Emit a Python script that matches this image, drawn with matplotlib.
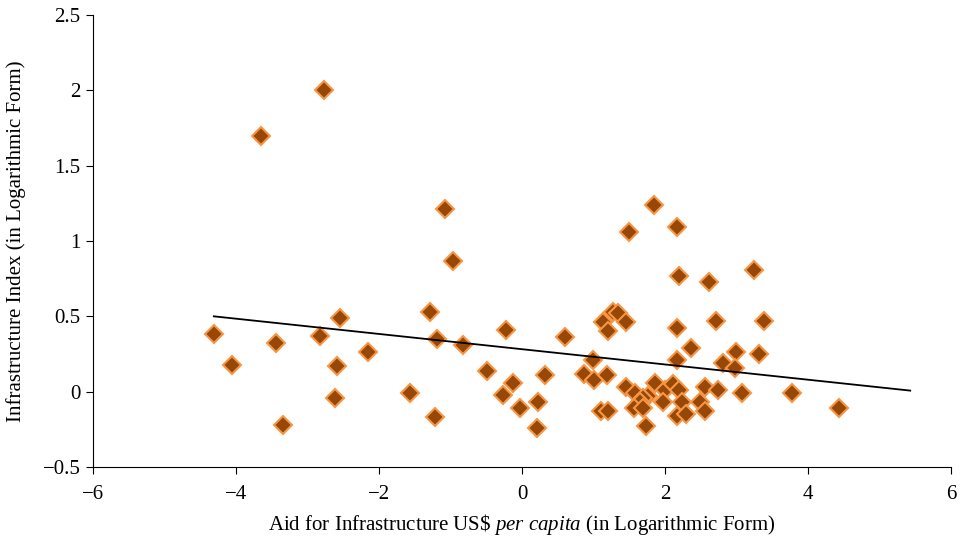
import matplotlib.pyplot as plt

plt.rcParams['font.family'] = ['Liberation Serif', 'DejaVu Serif']
plt.rcParams['axes.unicode_minus'] = True
plt.rcParams['mathtext.fontset'] = 'custom'
plt.rcParams['mathtext.rm'] = 'Liberation Serif'
plt.rcParams['mathtext.it'] = 'Liberation Serif:italic'

# aid for infrastructure per capita (log) vs infrastructure index (log)
aid_log = [-4.31, -4.06, -3.65, -3.44, -3.34, -2.77, -2.83, -2.55, -2.59, -2.62,
           -2.15, -1.57, -1.29, -1.19, -1.22, -1.08, -0.97, -0.83, -0.49, -0.22,
           -0.27, -0.13, -0.03, 0.22, 0.21, 0.32, 0.60,
           1.27, 1.34, 1.13, 1.45, 1.20, 2.17, 2.62, 2.71, 2.36, 2.17, 2.81,
           0.99, 0.87, 1.01, 1.19, 1.45, 1.58, 1.86, 2.00, 2.11, 2.20,
           1.76, 1.69, 1.65, 1.97, 2.24, 2.56, 2.74, 2.49, 2.56,
           1.10, 1.20, 1.57, 1.69, 2.17, 2.29, 1.73,
           3.24, 3.38, 2.99, 3.31, 2.98, 3.08, 3.78, 4.43,
           1.85, 1.50, 2.17, 2.20]
infra_log = [0.38, 0.18, 1.70, 0.32, -0.22, 2.00, 0.37, 0.49, 0.17, -0.04,
             0.26, -0.01, 0.53, 0.35, -0.17, 1.21, 0.87, 0.31, 0.14, 0.41,
             -0.02, 0.06, -0.11, -0.07, -0.24, 0.11, 0.36,
             0.53, 0.52, 0.46, 0.46, 0.40, 0.42, 0.73, 0.47, 0.29, 0.21, 0.19,
             0.21, 0.12, 0.08, 0.11, 0.03, -0.01, 0.06, 0.01, 0.05, 0.01,
             -0.03, -0.04, -0.07, -0.07, -0.07, 0.03, 0.01, -0.07, -0.13,
             -0.13, -0.13, -0.11, -0.11, -0.16, -0.15, -0.23,
             0.81, 0.47, 0.26, 0.25, 0.16, -0.01, -0.01, -0.11,
             1.24, 1.06, 1.09, 0.77]

# linear trend line end points
trend_x = [-4.31, 5.43]
trend_y = [0.50, 0.007]

fig = plt.figure(figsize=(9.64, 5.4), dpi=100)
ax = fig.add_axes([0.0965, 0.1352, 0.89, 0.837])

ax.plot(aid_log, infra_log, linestyle='none', marker='D', markersize=9,
        markerfacecolor='#974806', markeredgecolor='#f79646', markeredgewidth=1.5)
ax.plot(trend_x, trend_y, color='black', linewidth=1.3)

ax.set_xlim(-6, 6)
ax.set_ylim(-0.5, 2.5)
ax.set_xticks([-6, -4, -2, 0, 2, 4, 6])
ax.set_yticks([-0.5, 0, 0.5, 1, 1.5, 2, 2.5])
ax.set_yticklabels(['\u22120.5', '0', '0.5', '1', '1.5', '2', '2.5'])
ax.set_xticklabels(['\u22126', '\u22124', '\u22122', '0', '2', '4', '6'])
ax.spines['top'].set_visible(False)
ax.spines['right'].set_visible(False)
ax.tick_params(direction='out', length=5, labelsize=15, pad=4)
ax.tick_params(axis='x', pad=8)

ax.set_xlabel('Aid for Infrastructure US\\$ $\\it{per\\ capita}$ (in Logarithmic Form)',
              fontsize=15, labelpad=6)
ax.set_ylabel('Infrastructure Index (in Logarithmic Form)', fontsize=15, labelpad=12)

fig.savefig('out.png', dpi=100)
